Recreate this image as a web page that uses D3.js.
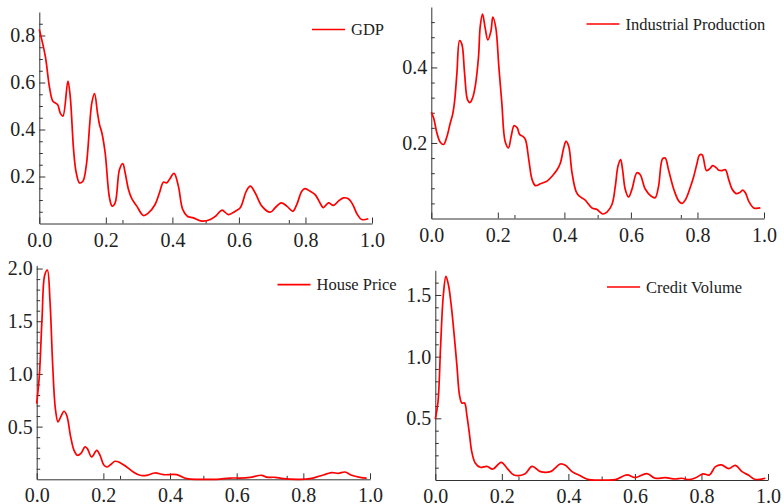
<!DOCTYPE html>
<html>
<head>
<meta charset="utf-8">
<script src="https://cdn.jsdelivr.net/npm/d3@7"></script>
<style>
  html, body { margin: 0; padding: 0; background: #fff; }
  svg { display: block; }
  text { font-family: "Liberation Serif", "DejaVu Serif", serif; fill: #222; }
</style>
</head>
<body>
<svg id="chart" width="784" height="504"></svg>
<script>
// ---------- DATA ----------
const gdpX = [0,0.018,0.031,0.041,0.055,0.063,0.071,0.086,0.093,0.103,0.111,0.121,0.131,0.141,0.158,0.166,0.175,0.181,0.188,0.198,0.211,0.219,0.228,0.241,0.251,0.258,0.268,0.278,0.293,0.313,0.328,0.348,0.361,0.373,0.383,0.391,0.405,0.418,0.431,0.445,0.463,0.489,0.514,0.532,0.549,0.568,0.589,0.604,0.622,0.634,0.649,0.669,0.694,0.709,0.727,0.744,0.762,0.774,0.789,0.799,0.814,0.829,0.849,0.854,0.869,0.884,0.899,0.914,0.929,0.942,0.956,0.969,0.989];
const gdpY = [0.826,0.712,0.577,0.52,0.506,0.47,0.457,0.606,0.54,0.315,0.216,0.173,0.18,0.244,0.514,0.553,0.47,0.421,0.386,0.3,0.109,0.074,0.088,0.23,0.255,0.216,0.145,0.106,0.074,0.034,0.045,0.081,0.13,0.176,0.173,0.187,0.213,0.159,0.06,0.031,0.024,0.01,0.017,0.034,0.057,0.038,0.052,0.067,0.137,0.159,0.13,0.074,0.048,0.067,0.088,0.074,0.052,0.081,0.137,0.148,0.137,0.123,0.074,0.067,0.088,0.077,0.095,0.109,0.105,0.081,0.038,0.017,0.02];

const ipX = [0,0.007,0.017,0.027,0.037,0.047,0.057,0.064,0.07,0.077,0.085,0.092,0.1,0.109,0.116,0.124,0.132,0.142,0.147,0.154,0.162,0.17,0.179,0.185,0.194,0.203,0.212,0.222,0.232,0.24,0.249,0.258,0.266,0.276,0.283,0.293,0.303,0.313,0.328,0.348,0.363,0.378,0.388,0.398,0.405,0.413,0.423,0.435,0.445,0.461,0.483,0.498,0.515,0.528,0.543,0.553,0.561,0.569,0.575,0.583,0.593,0.603,0.618,0.628,0.643,0.661,0.673,0.683,0.695,0.703,0.713,0.729,0.744,0.754,0.764,0.779,0.789,0.799,0.806,0.814,0.827,0.836,0.846,0.857,0.864,0.874,0.884,0.894,0.904,0.916,0.926,0.936,0.944,0.954,0.969,0.989];
const ipY = [0.281,0.266,0.226,0.202,0.196,0.217,0.253,0.275,0.31,0.385,0.471,0.461,0.385,0.314,0.307,0.319,0.35,0.429,0.508,0.541,0.504,0.473,0.495,0.533,0.504,0.402,0.306,0.204,0.187,0.217,0.246,0.24,0.222,0.217,0.209,0.156,0.103,0.087,0.092,0.099,0.112,0.129,0.147,0.187,0.204,0.191,0.121,0.072,0.059,0.05,0.028,0.024,0.012,0.017,0.037,0.085,0.138,0.156,0.129,0.077,0.057,0.077,0.121,0.116,0.078,0.059,0.055,0.085,0.158,0.16,0.129,0.077,0.046,0.04,0.05,0.084,0.112,0.147,0.168,0.169,0.127,0.131,0.14,0.134,0.128,0.127,0.129,0.103,0.078,0.066,0.068,0.075,0.068,0.046,0.028,0.028];

const hpX = [0,0.008,0.016,0.024,0.032,0.04,0.048,0.056,0.064,0.072,0.082,0.09,0.102,0.112,0.122,0.132,0.145,0.152,0.165,0.18,0.19,0.202,0.212,0.225,0.235,0.25,0.27,0.29,0.31,0.33,0.355,0.38,0.42,0.45,0.49,0.54,0.58,0.61,0.64,0.675,0.69,0.715,0.74,0.79,0.82,0.85,0.885,0.905,0.925,0.945,0.97,0.99];
const hpY = [0.718,0.988,1.525,1.937,1.985,1.684,1.083,0.671,0.544,0.592,0.646,0.608,0.402,0.275,0.228,0.243,0.307,0.291,0.212,0.275,0.228,0.133,0.117,0.148,0.171,0.158,0.117,0.069,0.038,0.038,0.06,0.044,0.044,0.006,0.0,0.0,0.012,0.012,0.019,0.038,0.02,0.019,0.006,0.0,0.006,0.031,0.063,0.057,0.069,0.038,0.019,0.012];

const cvX = [0,0.008,0.016,0.024,0.032,0.04,0.048,0.056,0.065,0.073,0.08,0.088,0.095,0.102,0.11,0.12,0.135,0.155,0.173,0.198,0.216,0.236,0.269,0.291,0.316,0.346,0.376,0.391,0.411,0.431,0.461,0.501,0.541,0.576,0.601,0.636,0.661,0.691,0.721,0.741,0.761,0.781,0.805,0.824,0.842,0.86,0.882,0.902,0.922,0.942,0.96,0.992];
const cvY = [0.494,0.63,1.089,1.494,1.651,1.575,1.413,1.197,0.927,0.684,0.624,0.624,0.522,0.387,0.224,0.138,0.103,0.111,0.089,0.143,0.095,0.041,0.049,0.111,0.068,0.068,0.13,0.119,0.068,0.041,0.003,0.0,0.003,0.041,0.019,0.052,0.014,0.019,0.008,0.014,0.003,0.016,0.049,0.041,0.108,0.122,0.092,0.119,0.068,0.038,0.006,0.014];

const seriesNames = ["GDP", "Industrial Production", "House Price", "Credit Volume"];

const xMajorTicks = [0, 0.2, 0.4, 0.6, 0.8, 1.0];
const xMinorTicks = [0.25, 0.5, 0.75];

const gdpYMajor = [0.2, 0.4, 0.6, 0.8];
const gdpYMinor = [0.05,0.1,0.15,0.25,0.3,0.35,0.45,0.5,0.55,0.65,0.7,0.75,0.85];
const ipYMajor = [0.2, 0.4];
const ipYMinor = [0.04,0.08,0.12,0.16,0.24,0.28,0.32,0.36,0.44,0.48,0.52];
const hpYMajor = [0.5, 1.0, 1.5, 2.0];
const hpYMinor = [0.1,0.2,0.3,0.4,0.6,0.7,0.8,0.9,1.1,1.2,1.3,1.4,1.6,1.7,1.8,1.9];
const cvYMajor = [0.5, 1.0, 1.5];
const cvYMinor = [0.1,0.2,0.3,0.4,0.6,0.7,0.8,0.9,1.1,1.2,1.3,1.4,1.6];

const yTop = [0.9, 0.56, 2.03, 1.7];

// ---------- LAYOUT ----------
const panels = [
  { xs: gdpX, ys: gdpY, name: seriesNames[0], yMaj: gdpYMajor, yMin: gdpYMinor, yMax: yTop[0],
    left: 39.3, right: 372, bottom: 223.5, top: 12, legX: 312, legY: 29.5 },
  { xs: ipX, ys: ipY, name: seriesNames[1], yMaj: ipYMajor, yMin: ipYMinor, yMax: yTop[1],
    left: 431.3, right: 764, bottom: 218.5, top: 7, legX: 586.5, legY: 24 },
  { xs: hpX, ys: hpY, name: seriesNames[2], yMaj: hpYMajor, yMin: hpYMinor, yMax: yTop[2],
    left: 36.7, right: 370, bottom: 479.3, top: 265.4, legX: 277.5, legY: 284.7 },
  { xs: cvX, ys: cvY, name: seriesNames[3], yMaj: cvYMajor, yMin: cvYMinor, yMax: yTop[3],
    left: 435.3, right: 768, bottom: 480, top: 270.3, legX: 607, legY: 287 }
];

const svg = d3.select("#chart");
const axisColor = "#333";

panels.forEach(p => {
  const x = d3.scaleLinear().domain([0, 1]).range([p.left, p.right]);
  const y = d3.scaleLinear().domain([0, p.yMax]).range([p.bottom, p.top]);
  const g = svg.append("g");

  // x axis
  const xAxis = d3.axisBottom(x).tickValues(xMajorTicks).tickSizeInner(-6).tickSizeOuter(0)
    .tickPadding(9).tickFormat(d3.format(".1f"));
  const gx = g.append("g").attr("transform", `translate(0,${p.bottom})`).call(xAxis);
  gx.select(".domain").attr("stroke", axisColor);
  gx.selectAll(".tick line").attr("stroke", axisColor);
  gx.selectAll(".tick text").attr("font-size", 20).attr("font-family", "Liberation Serif").attr("fill", "#222");
  const xMinorAxis = d3.axisBottom(x).tickValues(xMinorTicks).tickSizeInner(-3.5).tickSizeOuter(0).tickFormat("");
  const gxm = g.append("g").attr("transform", `translate(0,${p.bottom})`).call(xMinorAxis);
  gxm.select(".domain").remove();
  gxm.selectAll(".tick line").attr("stroke", axisColor);

  // y axis
  const yAxis = d3.axisLeft(y).tickValues(p.yMaj).tickSizeInner(-6).tickSizeOuter(0)
    .tickPadding(4).tickFormat(d3.format(".1f"));
  const gy = g.append("g").attr("transform", `translate(${p.left},0)`).call(yAxis);
  gy.select(".domain").attr("stroke", axisColor);
  gy.selectAll(".tick line").attr("stroke", axisColor);
  gy.selectAll(".tick text").attr("font-size", 20).attr("font-family", "Liberation Serif").attr("fill", "#222");
  const yMinorAxis = d3.axisLeft(y).tickValues(p.yMin).tickSizeInner(-3.5).tickSizeOuter(0).tickFormat("");
  const gym = g.append("g").attr("transform", `translate(${p.left},0)`).call(yMinorAxis);
  gym.select(".domain").remove();
  gym.selectAll(".tick line").attr("stroke", axisColor);

  // curve
  const pts = p.xs.map((v, i) => [v, p.ys[i]]);
  const line = d3.line().x(d => x(d[0])).y(d => y(d[1])).curve(d3.curveCatmullRom.alpha(0.5));
  g.append("path").datum(pts).attr("d", line)
    .attr("fill", "none").attr("stroke", "#ff0000").attr("stroke-width", 1.7)
    .attr("stroke-linejoin", "round");

  // legend
  g.append("line").attr("x1", p.legX).attr("x2", p.legX + 33)
    .attr("y1", p.legY).attr("y2", p.legY)
    .attr("stroke", "#ff0000").attr("stroke-width", 1.7);
  g.append("text").attr("x", p.legX + 39).attr("y", p.legY + 5.5)
    .attr("font-size", 16.5).text(p.name);
});
</script>
</body>
</html>
